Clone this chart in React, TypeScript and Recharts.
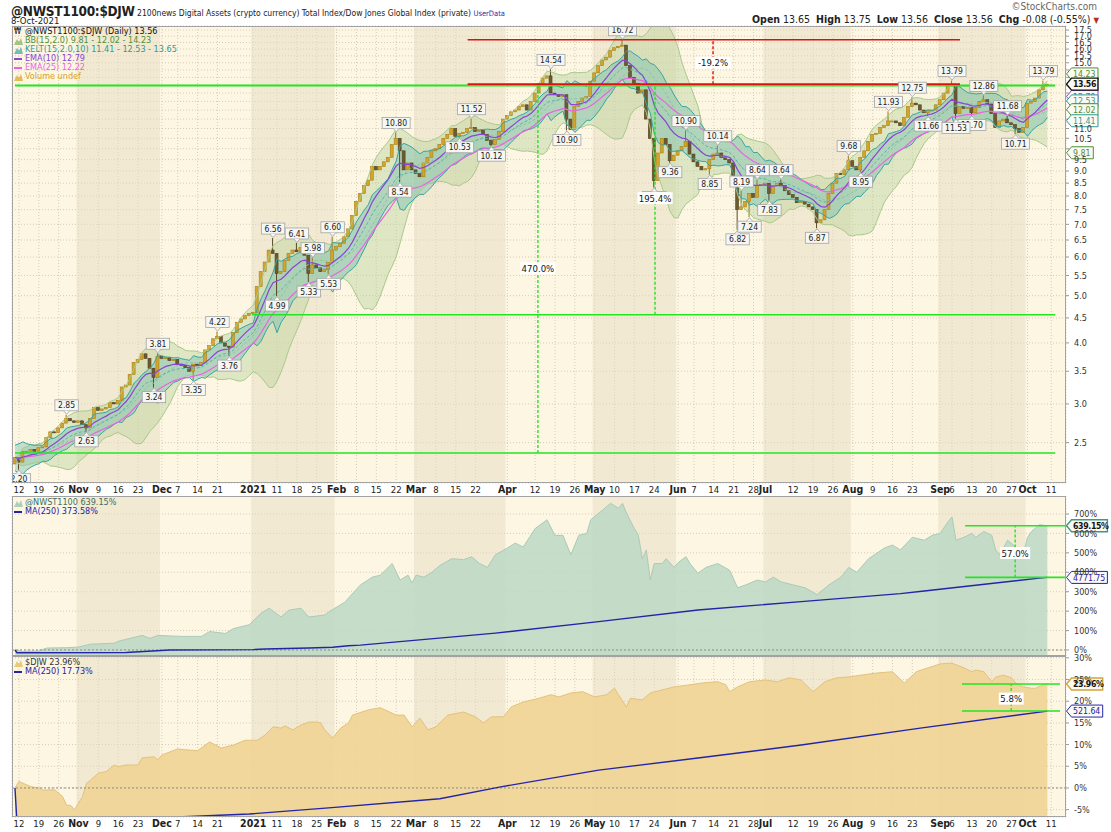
//
// @NWST1100:$DJW daily ratio chart with performance panels
//
import React from 'react';
import {
  Area,
  Bar,
  CartesianGrid,
  ComposedChart,
  Line,
  ReferenceArea,
  ReferenceDot,
  ReferenceLine,
  Scatter,
  XAxis,
  YAxis,
} from 'recharts';

const FONT = '"DejaVu Sans Condensed", "DejaVu Sans", Verdana, sans-serif';

// trading-day index: 0 = 9-Oct-2020 ... 260 = 8-Oct-2021 (weekdays)
const closes = [
  2.33, 2.28, 2.40, 2.40, 2.42, 2.40, 2.44, 2.45, 2.56, 2.63,
  2.62, 2.68, 2.74, 2.80, 2.77, 2.75, 2.77, 2.72, 2.68, 2.80,
  2.95, 2.91, 2.93, 2.95, 3.02, 3.00, 3.05, 3.25, 3.28, 3.45,
  3.65, 3.70, 3.80, 3.72, 3.55, 3.40, 3.75, 3.72, 3.73, 3.68,
  3.70, 3.62, 3.60, 3.56, 3.50, 3.62, 3.60, 3.65, 3.87, 3.95,
  4.08, 4.12, 4.00, 3.94, 3.92, 4.20, 4.41, 4.48, 4.55, 4.60,
  4.62, 5.22, 5.60, 5.86, 6.20, 6.10, 5.55, 5.60, 5.90, 6.10,
  6.20, 6.15, 6.28, 6.05, 5.55, 5.78, 5.70, 5.60, 5.65, 5.85,
  6.20, 6.30, 6.40, 6.60, 6.85, 7.30, 7.80, 8.10, 8.40, 8.62,
  9.20, 9.05, 9.20, 9.40, 9.60, 10.20, 10.50, 9.90, 9.05, 9.35,
  9.05, 8.90, 8.76, 9.35, 9.60, 9.90, 10.00, 10.20, 10.50, 10.70,
  11.00, 10.60, 10.75, 10.80, 11.00, 11.05, 10.85, 10.90, 10.70, 10.40,
  10.20, 10.45, 10.85, 11.50, 11.70, 11.90, 12.00, 12.20, 12.30, 12.00,
  12.50, 13.00, 13.60, 13.95, 14.10, 13.00, 12.90, 12.80, 12.90, 11.50,
  10.95, 12.20, 12.50, 12.70, 12.80, 13.75, 14.30, 14.80, 15.20, 15.40,
  15.90, 16.10, 16.20, 16.30, 14.80, 14.00, 13.60, 13.00, 13.20, 11.50,
  10.50, 8.60, 9.80, 10.50, 10.20, 9.45, 9.70, 9.90, 10.10, 10.35,
  9.75, 9.40, 9.20, 9.05, 9.10, 9.50, 9.75, 9.80, 9.60, 9.50,
  9.35, 8.50, 7.50, 7.60, 7.80, 8.10, 7.95, 8.40, 8.45, 8.50,
  8.10, 8.40, 8.50, 8.40, 8.20, 8.05, 7.95, 7.75, 7.80, 7.70,
  7.60, 7.50, 7.05, 7.15, 7.50, 8.10, 8.50, 8.90, 8.85, 9.05,
  9.45, 9.20, 9.05, 9.60, 9.90, 10.35, 10.70, 10.75, 11.05, 11.15,
  11.40, 11.40, 11.30, 11.15, 11.60, 12.20, 12.40, 12.30, 12.00, 11.85,
  12.00, 12.00, 12.30, 12.60, 13.00, 13.45, 13.55, 11.80, 12.20, 12.10,
  12.15, 11.85, 12.15, 12.50, 12.60, 12.35, 11.80, 11.05, 11.40, 11.50,
  11.30, 11.20, 11.00, 10.80, 11.05, 12.40, 12.50, 12.70, 13.20, 13.45,
  13.56,
];
const firstOpen = 2.26;

// labelled highs / lows [index, value, kind]
const priceNotes: [number, number, string][] = [
  [1, 2.20, 'lo'], [13, 2.85, 'hi'], [18, 2.63, 'lo'], [35, 3.24, 'lo'], [36, 3.81, 'hi'],
  [45, 3.35, 'lo'], [51, 4.22, 'hi'], [54, 3.76, 'lo'], [65, 6.56, 'hi'], [66, 4.99, 'lo'],
  [71, 6.41, 'hi'], [74, 5.33, 'lo'], [75, 5.98, 'hi'], [79, 5.53, 'lo'], [80, 6.60, 'hi'],
  [96, 10.80, 'hi'], [97, 8.54, 'lo'], [112, 10.53, 'lo'], [115, 11.52, 'hi'], [120, 10.12, 'lo'],
  [135, 14.54, 'hi'], [139, 10.90, 'lo'], [153, 16.72, 'hi'], [161, 8.33, 'lo'], [165, 9.36, 'lo'],
  [169, 10.90, 'hi'], [175, 8.85, 'lo'], [177, 10.14, 'hi'], [182, 6.82, 'lo'], [183, 8.19, 'hi'],
  [185, 7.24, 'lo'], [187, 8.64, 'hi'], [190, 7.83, 'lo'], [193, 8.64, 'hi'], [202, 6.87, 'lo'],
  [210, 9.68, 'hi'], [213, 8.95, 'lo'], [220, 11.93, 'hi'], [226, 12.75, 'hi'], [230, 11.66, 'lo'],
  [236, 13.79, 'hi'], [241, 11.70, 'lo'], [237, 11.53, 'lo'], [244, 12.86, 'hi'], [250, 11.68, 'hi'],
  [252, 10.71, 'lo'], [259, 13.79, 'hi'],
];

const xTickIdx = [
  1, 6, 11, 16, 21, 26, 31, 37, 41, 46, 51, 60, 66, 71, 76, 81, 86, 91, 96, 101, 106, 111, 116,
  124, 131, 136, 141, 146, 151, 156, 161, 167, 171, 176, 181, 186, 189, 196, 201, 206, 211, 216,
  221, 226, 233, 236, 241, 246, 251, 255, 261,
];
const xTickLabels = [
  '12', '19', '26', 'Nov', '9', '16', '23', 'Dec', '7', '14', '21', '2021', '11', '18', '25',
  'Feb', '8', '15', '22', 'Mar', '8', '15', '22', 'Apr', '12', '19', '26', 'May', '10', '17', '24',
  'Jun', '7', '14', '21', '28', 'Jul', '12', '19', '26', 'Aug', '9', '16', '23', 'Sep', '6', '13',
  '20', '27', 'Oct', '11',
];
const priceTicks = [
  2.5, 3, 3.5, 4, 4.5, 5, 5.5, 6, 6.5, 7, 7.5, 8, 8.5, 9, 9.5, 10, 10.5, 11, 11.5, 12, 12.5,
  13, 13.5, 14, 14.5, 15, 15.5, 16, 16.5, 17, 17.5,
];
// tick labels that sit under the value tags on the right
const priceTicksCovered = [10, 11.5, 12, 12.5, 13, 13.5, 14, 14.5];
const nwstTicks = [0, 100, 200, 300, 400, 500, 600, 700];
const djwTicks = [-5, 0, 5, 10, 15, 20, 25, 30];

// % change panels [index, value]
const nwstPerf: [number, number][] = [
  [0, 0], [2, -8], [6, -5], [8, 10], [13, 12], [16, 15], [19, 30], [25, 35], [26, 45], [32, 75],
  [34, 60], [36, 75], [42, 70], [47, 70], [49, 95], [53, 85], [55, 110], [59, 130], [62, 190],
  [64, 215], [67, 170], [69, 205], [72, 215], [74, 170], [78, 180], [79, 196], [83, 245],
  [87, 335], [90, 375], [92, 385], [95, 445], [97, 360], [99, 385], [100, 345], [101, 385],
  [103, 375], [105, 400], [107, 435], [110, 470], [113, 465], [115, 480], [117, 445], [119, 425],
  [121, 490], [124, 525], [126, 550], [128, 530], [131, 625], [134, 670], [136, 590], [138, 590],
  [140, 490], [142, 590], [144, 600], [145, 670], [148, 720], [150, 755], [152, 730], [153, 755],
  [154, 705], [156, 625], [157, 590], [158, 470], [159, 515], [160, 360], [161, 445], [163, 445],
  [164, 470], [166, 425], [167, 450], [169, 480], [170, 445], [172, 395], [174, 425], [177, 445],
  [180, 410], [182, 320], [184, 335], [187, 360], [189, 350], [191, 375], [193, 350], [196, 335],
  [199, 320], [202, 285], [205, 335], [208, 375], [210, 425], [212, 400], [215, 470], [219, 525],
  [221, 540], [223, 515], [226, 580], [229, 565], [231, 590], [233, 600], [235, 660], [236, 685],
  [237, 565], [239, 580], [241, 600], [242, 580], [244, 610], [246, 590], [247, 515], [248, 490],
  [250, 565], [252, 530], [254, 500], [255, 580], [256, 610], [258, 645], [260, 639.15],
];
const nwstMa: [number, number][] = [
  [0, 0], [0.5, -14], [28, -13], [39, 0], [60, 2], [63, 5], [74, 10], [80, 14], [84, 22],
  [87, 25], [121, 87], [147, 146], [172, 206], [198, 249], [223, 290], [229, 304], [258, 370],
  [260, 373.58],
];
const djwPerf: [number, number][] = [
  [0, 0], [1, 1.5], [2, 1.1], [4, 0.3], [6, 0], [7, -0.5], [10, -0.4], [11, -1.2], [12, -2],
  [13, -4], [14, -4], [15, -5], [17, -2], [18, 1], [19, 1.8], [21, 3.4], [23, 3.8], [25, 5.3],
  [26, 4.9], [28, 5.3], [31, 5.3], [32, 6.9], [35, 7.2], [36, 6.5], [37, 7.6], [41, 9], [43, 8.8],
  [46, 8.6], [49, 10.6], [52, 9.2], [55, 9.9], [58, 11], [61, 11], [63, 12.2], [65, 14.1],
  [67, 13.8], [68, 14.3], [70, 13.4], [72, 14.5], [74, 15.2], [76, 15.2], [77, 15], [78, 13.4],
  [80, 11.5], [82, 13.8], [84, 15], [85, 16.8], [89, 18], [92, 18.5], [96, 16.8], [98, 16.8],
  [100, 14.1], [102, 16.1], [104, 13.4], [106, 14.1], [109, 16.8], [113, 17.5], [116, 16.4],
  [118, 15], [120, 16.4], [123, 16.4], [125, 18.7], [128, 19.8], [132, 20.7], [135, 21.5],
  [137, 21], [140, 21.9], [143, 22.2], [146, 21], [149, 21.5], [151, 23], [152, 21.5], [154, 18.7],
  [155, 20.7], [158, 20.3], [160, 21.9], [163, 22.6], [166, 23.3], [170, 23.8], [173, 24.2],
  [177, 24.5], [179, 23.8], [180, 22.2], [182, 23.3], [185, 24.5], [189, 24.9], [192, 24.5],
  [195, 25.4], [198, 24.9], [201, 22.2], [204, 24.5], [207, 25.4], [210, 25.6], [213, 26],
  [217, 26.5], [221, 26.8], [224, 24.2], [227, 26.8], [230, 27.7], [233, 28.6], [236, 28.8],
  [237, 28.4], [239, 27.7], [241, 26.8], [242, 27.2], [244, 26.8], [246, 24.5], [247, 25.6],
  [249, 26], [251, 25.4], [252, 24.2], [254, 23.3], [256, 23], [257, 23], [259, 23.8], [260, 23.96],
];
const djwMa: [number, number][] = [
  [0, 0], [0.5, -8], [44, -6.6], [59, -6], [79, -4.6], [107, -2.5], [122, 0.2], [147, 4.1],
  [172, 6.9], [198, 9.9], [228, 13.8], [260, 17.73],
];

const X_MIN = -0.75;
const X_MAX = 264.7;

// ---- derived rows ----
const noteHi = new Map<number, number>();
const noteLo = new Map<number, number>();
priceNotes.forEach(([i, v, k]) => (k === 'hi' ? noteHi : noteLo).set(i, v));

const ema = (src: number[], n: number) => {
  const k = 2 / (n + 1);
  const out: number[] = [];
  src.forEach((v, i) => out.push(i === 0 ? v : out[i - 1] + k * (v - out[i - 1])));
  return out;
};

const opens = closes.map((c, i) => (i === 0 ? firstOpen : closes[i - 1]));
const highs = closes.map((c, i) => Math.max(c, opens[i], noteHi.get(i) ?? 0));
const lows = closes.map((c, i) => Math.min(c, opens[i], noteLo.get(i) ?? Infinity));
const trueRange = closes.map((c, i) => {
  const pc = i === 0 ? opens[0] : closes[i - 1];
  return Math.max(highs[i] - lows[i], Math.abs(highs[i] - pc), Math.abs(lows[i] - pc));
});
const atr10 = ema(trueRange, 10);
const ema10 = ema(closes, 10);
const ema15 = ema(closes, 15);
const ema25 = ema(closes, 25);

const priceRows = closes.map((c, i) => {
  const win = closes.slice(Math.max(0, i - 14), i + 1);
  const m = win.reduce((s, v) => s + v, 0) / win.length;
  const sd = Math.sqrt(win.reduce((s, v) => s + (v - m) ** 2, 0) / win.length);
  return {
    i,
    open: opens[i],
    close: c,
    high: highs[i],
    low: lows[i],
    bb: [m - 2 * sd, m + 2 * sd],
    bbUp: m + 2 * sd,
    bbMid: m,
    bbLo: m - 2 * sd,
    kelt: [ema15[i] - 2 * atr10[i], ema15[i] + 2 * atr10[i]],
    kUp: ema15[i] + 2 * atr10[i],
    kMid: ema15[i],
    kLo: ema15[i] - 2 * atr10[i],
    ema10: ema10[i],
    ema25: ema25[i],
  };
});

const noteRows = priceNotes.map(([i, v, k]) => ({ i, v, k }));

const mergeSeries = (a: [number, number][], b: [number, number][]) => {
  const m = new Map<number, any>();
  a.forEach(([i, v]) => m.set(i, { ...(m.get(i) || { i }), v }));
  b.forEach(([i, ma]) => m.set(i, { ...(m.get(i) || { i }), ma }));
  return [...m.values()].sort((p, q) => p.i - q.i);
};
const nwstRows = mergeSeries(nwstPerf, nwstMa);
const djwRows = mergeSeries(djwPerf, djwMa);

const tickLabelOf = new Map<number, string>();
xTickIdx.forEach((v, k) => tickLabelOf.set(v, xTickLabels[k]));

// darker background for every other month
const monthStarts = xTickIdx.filter((v, k) => xTickLabels[k].length > 2);
const darkMonths = monthStarts
  .map((s, k) => [s - 0.5, (monthStarts[k + 1] ?? X_MAX + 0.5) - 0.5])
  .filter((_, k) => k % 2 === 0);

// ---- shapes ----
const Candle = (props: any) => {
  const { x, y, width, height, payload } = props;
  if (!payload) return null;
  const { open, close, high, low } = payload;
  const top = Math.min(y, y + height);
  const h = Math.abs(height);
  const lh = Math.log(high);
  const span = lh - Math.log(low);
  const py = (v: number) => (span > 0 ? top + (h * (lh - Math.log(v))) / span : top);
  const up = close >= open;
  const b1 = py(Math.max(open, close));
  const b2 = py(Math.min(open, close));
  const cx = x + width / 2;
  return (
    <g>
      <line x1={cx} x2={cx} y1={top} y2={top + h} stroke={up ? '#9a7818' : '#5b4824'} strokeWidth={1} />
      <rect
        x={x}
        y={b1}
        width={width}
        height={Math.max(1, b2 - b1)}
        fill={up ? '#d4a52c' : '#6e5a31'}
        stroke={up ? '#a98318' : '#54431f'}
        strokeWidth={0.6}
      />
    </g>
  );
};

const PriceNote = (props: any) => {
  const { cx, cy, payload } = props;
  if (cx == null || !payload) return null;
  const t = payload.v.toFixed(2);
  const w = t.length * 4.6 + 5;
  const h = 11;
  const hi = payload.k === 'hi';
  const by = hi ? cy - 4 - h : cy + 4;
  const base = hi ? cy - 4 : cy + 4;
  const tip = hi ? cy - 0.5 : cy + 0.5;
  return (
    <g>
      <rect x={cx - w / 2} y={by} width={w} height={h} fill="#f6f6f3" stroke="#a3a3a3" strokeWidth={0.8} />
      <path d={`M${cx - 3},${base} L${cx},${tip} L${cx + 3},${base}`} fill="#f6f6f3" stroke="#a3a3a3" strokeWidth={0.8} />
      <text x={cx} y={by + 8.6} textAnchor="middle" fontSize={8.5} fontFamily={FONT} fill="#222">
        {t}
      </text>
    </g>
  );
};

const Tag = ({ cx, cy, text, color, bold }: any) => {
  if (cx == null) return null;
  const w = text.length * 4.7 + 3;
  const x0 = cx + 0.5;
  return (
    <g>
      <path
        d={`M${x0},${cy} L${x0 + 5},${cy - 6} L${x0 + 5 + w},${cy - 6} L${x0 + 5 + w},${cy + 6} L${x0 + 5},${cy + 6} Z`}
        fill="#fbf9f2"
        stroke={color}
        strokeWidth={bold ? 1.4 : 1}
      />
      <text
        x={x0 + 6.5}
        y={cy + 3.2}
        fontSize={8.7}
        letterSpacing={bold ? -0.35 : 0}
        fontFamily={FONT}
        fontWeight={bold ? 'bold' : 'normal'}
        fill={bold ? '#111' : color}
      >
        {text}
      </text>
    </g>
  );
};

const Measure = ({ cx, cy, text }: any) => {
  if (cx == null) return null;
  const w = text.length * 5.2 + 4;
  return (
    <g>
      <rect x={cx - w / 2} y={cy - 6} width={w} height={12} fill="#ffffff" />
      <text x={cx} y={cy + 3.5} textAnchor="middle" fontSize={9.5} fontFamily={FONT} fill="#111">
        {text}
      </text>
    </g>
  );
};

const XTick = (props: any) => {
  const { x, y, payload } = props;
  const label = tickLabelOf.get(payload.value) ?? '';
  const bold = label.length > 2;
  return (
    <text
      x={x}
      y={y + 10}
      textAnchor="middle"
      fontSize={bold ? 10.5 : 9.5}
      fontWeight={bold ? 'bold' : 'normal'}
      fontFamily={FONT}
      fill="#222"
    >
      {label}
    </text>
  );
};

const PriceTick = (props: any) => {
  const { x, y, payload } = props;
  if (priceTicksCovered.includes(payload.value)) return null;
  return (
    <text x={x} y={y + 3.2} fontSize={9} fontFamily={FONT} fill="#333">
      {payload.value.toFixed(1)}
    </text>
  );
};

const yTick = { fontSize: 9, fill: '#333', fontFamily: FONT };
const gridProps = { stroke: '#d6ccb8', strokeDasharray: '1 2', fill: '#fdf6e3' };

const MonthBands = () =>
  darkMonths.map(([a, b]) => (
    <ReferenceArea key={a} x1={a} x2={b} fill="#e7dcc2" fillOpacity={0.5} stroke="none" ifOverflow="hidden" />
  ));

const legendLine = (color: string, text: string, icon: React.ReactNode) => (
  <div style={{ color, height: 9, lineHeight: '9px', whiteSpace: 'nowrap', display: 'flex', alignItems: 'center' }}>
    <span style={{ width: 11, display: 'inline-flex', alignItems: 'center' }}>{icon}</span>
    {text}
  </div>
);
const dash = (c: string) => <span style={{ display: 'inline-block', width: 8, height: 2, background: c }} />;
const tri = (c: string) => (
  <svg width={9} height={8}>
    <path d="M0,8 L3,2 L5,5 L7,1 L9,8 Z" fill={c} opacity={0.7} />
  </svg>
);

function App() {
  return (
    <div
      style={{
        position: 'absolute',
        left: 0,
        top: 0,
        width: 1111,
        height: 832,
        background: '#fff',
        fontFamily: FONT,
        overflow: 'hidden',
      }}
    >
      {/* header */}
      <div style={{ position: 'absolute', left: 11, top: 1, whiteSpace: 'nowrap', color: '#222' }}>
        <span style={{ fontSize: 13.5, fontWeight: 'bold', letterSpacing: -0.3 }}>@NWST1100:$DJW</span>
        <span style={{ fontSize: 8.5 }}> 2100news Digital Assets (crypto currency) Total Index/Dow Jones Global Index (private) </span>
        <span style={{ fontSize: 7.5, color: '#2233aa' }}>UserData</span>
      </div>
      <div style={{ position: 'absolute', left: 11, top: 15, fontSize: 9.5, color: '#222' }}>8-Oct-2021</div>
      <div style={{ position: 'absolute', right: 14, top: 1, fontSize: 10, color: '#666' }}>©StockCharts.com</div>
      <div style={{ position: 'absolute', right: 12, top: 13, fontSize: 10.5, color: '#222', whiteSpace: 'nowrap' }}>
        <b>Open</b> 13.65 &nbsp;<b>High</b> 13.75 &nbsp;<b>Low</b> 13.56 &nbsp;<b>Close</b> 13.56 &nbsp;<b>Chg</b> -0.08 (-0.55%){' '}
        <span style={{ color: '#b03020', fontSize: 8 }}>▼</span>
      </div>

      {/* price panel */}
      <div style={{ position: 'absolute', left: 0, top: 0 }}>
        <ComposedChart width={1111} height={496} data={priceRows} margin={{ top: 26, right: 0, bottom: 0, left: 12 }}>
          <CartesianGrid {...gridProps} />
          {MonthBands()}
          <XAxis
            dataKey="i"
            type="number"
            domain={[X_MIN, X_MAX]}
            allowDataOverflow
            ticks={xTickIdx}
            interval={0}
            height={13}
            axisLine={false}
            tickLine={false}
            tickSize={0}
            tickMargin={0}
            tick={<XTick />}
          />
          <YAxis
            orientation="right"
            width={45}
            scale="log"
            domain={[2.066, 17.84]}
            allowDataOverflow
            ticks={priceTicks}
            interval={0}
            tick={<PriceTick />}
            axisLine={false}
            tickSize={3}
            tickMargin={5}
            tickLine={{ stroke: '#999' }}
          />
          <Area dataKey="bb" stroke="none" fill="#b9d39c" fillOpacity={0.45} isAnimationActive={false} />
          <Line dataKey="bbUp" stroke="#a9c98d" strokeWidth={1} dot={false} isAnimationActive={false} />
          <Line dataKey="bbLo" stroke="#a9c98d" strokeWidth={1} dot={false} isAnimationActive={false} />
          <Area dataKey="kelt" stroke="none" fill="#6fbcaf" fillOpacity={0.4} isAnimationActive={false} />
          <Line dataKey="kUp" stroke="#3aa49f" strokeWidth={1} dot={false} isAnimationActive={false} />
          <Line dataKey="kLo" stroke="#3aa49f" strokeWidth={1} dot={false} isAnimationActive={false} />
          <Line dataKey="bbMid" stroke="#8fc2a8" strokeDasharray="3 2" strokeWidth={1} dot={false} isAnimationActive={false} />
          <Line dataKey="kMid" stroke="#5fb0ab" strokeDasharray="3 2" strokeWidth={1} dot={false} isAnimationActive={false} />
          <Line dataKey="ema25" stroke="#ea63e4" strokeWidth={1.2} dot={false} isAnimationActive={false} />
          <Line dataKey="ema10" stroke="#8a44d6" strokeWidth={1.2} dot={false} isAnimationActive={false} />
          <Bar
            dataKey={(d: any) => [d.low, d.high]}
            barSize={3}
            shape={<Candle />}
            isAnimationActive={false}
          />

          {/* measurement lines */}
          <ReferenceLine segment={[{ x: 0, y: 13.48 }, { x: 262, y: 13.48 }]} stroke="#22e622" strokeWidth={2} />
          <ReferenceLine segment={[{ x: 114, y: 16.72 }, { x: 238, y: 16.72 }]} stroke="#e01010" strokeWidth={1.6} />
          <ReferenceLine segment={[{ x: 114, y: 13.56 }, { x: 238, y: 13.56 }]} stroke="#e01010" strokeWidth={1.6} />
          <ReferenceLine segment={[{ x: 0, y: 2.38 }, { x: 262, y: 2.38 }]} stroke="#22e622" strokeWidth={1.6} />
          <ReferenceLine segment={[{ x: 59.7, y: 4.57 }, { x: 262, y: 4.57 }]} stroke="#22e622" strokeWidth={1.6} />
          <ReferenceLine segment={[{ x: 131.7, y: 2.38 }, { x: 131.7, y: 13.48 }]} stroke="#22e622" strokeWidth={1.4} strokeDasharray="3 2" />
          <ReferenceLine segment={[{ x: 161.2, y: 4.57 }, { x: 161.2, y: 13.48 }]} stroke="#22e622" strokeWidth={1.4} strokeDasharray="3 2" />
          <ReferenceLine segment={[{ x: 175.8, y: 13.56 }, { x: 175.8, y: 16.72 }]} stroke="#e01010" strokeWidth={1.4} strokeDasharray="3 2" />

          <Scatter data={noteRows} dataKey="v" shape={<PriceNote />} isAnimationActive={false} />

          <ReferenceDot x={131.7} y={5.69} r={0} ifOverflow="visible" shape={(p: any) => <Measure {...p} text="470.0%" />} />
          <ReferenceDot x={161.2} y={7.92} r={0} ifOverflow="visible" shape={(p: any) => <Measure {...p} text="195.4%" />} />
          <ReferenceDot x={175.8} y={15.0} r={0} ifOverflow="visible" shape={(p: any) => <Measure {...p} text="-19.2%" />} />

          <ReferenceDot x={X_MAX} y={12.79} r={0} ifOverflow="visible" shape={(p: any) => <Tag {...p} text="12.79" color="#8a44d6" />} />
          <ReferenceDot x={X_MAX} y={14.23} r={0} ifOverflow="visible" shape={(p: any) => <Tag {...p} text="14.23" color="#4f8f35" />} />
          <ReferenceDot x={X_MAX} y={12.53} r={0} ifOverflow="visible" shape={(p: any) => <Tag {...p} text="12.53" color="#2e9b96" />} />
          <ReferenceDot x={X_MAX} y={12.02} r={0} ifOverflow="visible" shape={(p: any) => <Tag {...p} text="12.02" color="#4f8f35" />} />
          <ReferenceDot x={X_MAX} y={11.41} r={0} ifOverflow="visible" shape={(p: any) => <Tag {...p} text="11.41" color="#2e9b96" />} />
          <ReferenceDot x={X_MAX} y={9.81} r={0} ifOverflow="visible" shape={(p: any) => <Tag {...p} text="9.81" color="#4f8f35" />} />
          <ReferenceDot x={X_MAX} y={13.56} r={0} ifOverflow="visible" shape={(p: any) => <Tag {...p} text="13.56" color="#111" bold />} />
        </ComposedChart>
      </div>

      {/* NWST1100 performance panel */}
      <div style={{ position: 'absolute', left: 0, top: 496 }}>
        <ComposedChart width={1111} height={160} data={nwstRows} margin={{ top: 0, right: 0, bottom: 0, left: 12 }}>
          <CartesianGrid {...gridProps} />
          {MonthBands()}
          <XAxis
            dataKey="i"
            type="number"
            domain={[X_MIN, X_MAX]}
            allowDataOverflow
            ticks={xTickIdx}
            interval={0}
            height={0}
            axisLine={false}
            tickLine={false}
            tick={false}
          />
          <YAxis
            orientation="right"
            width={45}
            domain={[-30.9, 792.6]}
            allowDataOverflow
            ticks={nwstTicks}
            interval={0}
            tickFormatter={(v: number) => `${v}%`}
            tick={yTick}
            axisLine={false}
            tickSize={3}
            tickMargin={5}
            tickLine={{ stroke: '#999' }}
          />
          <ReferenceLine y={0} stroke="#8a8a8a" strokeDasharray="2 2" />
          <Area
            dataKey="v"
            connectNulls
            baseValue={-30.9}
            stroke="#a9cbb8"
            strokeWidth={1}
            fill="#bcd8c6"
            fillOpacity={0.85}
            isAnimationActive={false}
          />
          <Line dataKey="ma" connectNulls stroke="#2424a8" strokeWidth={1.4} dot={false} isAnimationActive={false} />
          <ReferenceLine segment={[{ x: 239.3, y: 639.15 }, { x: 264.5, y: 639.15 }]} stroke="#22e622" strokeWidth={1.6} />
          <ReferenceLine segment={[{ x: 239.3, y: 373.58 }, { x: 264.5, y: 373.58 }]} stroke="#22e622" strokeWidth={1.6} />
          <ReferenceLine segment={[{ x: 251.9, y: 373.58 }, { x: 251.9, y: 639.15 }]} stroke="#22e622" strokeWidth={1.4} strokeDasharray="3 2" />
          <ReferenceDot x={251.9} y={499} r={0} ifOverflow="visible" shape={(p: any) => <Measure {...p} text="57.0%" />} />
          <ReferenceDot x={X_MAX} y={373.58} r={0} ifOverflow="visible" shape={(p: any) => <Tag {...p} text="4771.75" color="#2424a8" />} />
          <ReferenceDot x={X_MAX} y={639.15} r={0} ifOverflow="visible" shape={(p: any) => <Tag {...p} text="639.15%" color="#3a9a8a" bold />} />
        </ComposedChart>
      </div>

      {/* $DJW performance panel (svg starts 6px higher so the top tick label is not clipped) */}
      <div style={{ position: 'absolute', left: 0, top: 651 }}>
        <ComposedChart width={1111} height={179} data={djwRows} margin={{ top: 6, right: 0, bottom: 0, left: 12 }}>
          <CartesianGrid {...gridProps} />
          {MonthBands()}
          <XAxis
            dataKey="i"
            type="number"
            domain={[X_MIN, X_MAX]}
            allowDataOverflow
            ticks={xTickIdx}
            interval={0}
            height={13}
            axisLine={false}
            tickLine={false}
            tickSize={0}
            tickMargin={0}
            tick={<XTick />}
          />
          <YAxis
            orientation="right"
            width={45}
            domain={[-6.7, 30.2]}
            allowDataOverflow
            ticks={djwTicks}
            interval={0}
            tickFormatter={(v: number) => `${v}%`}
            tick={yTick}
            axisLine={false}
            tickSize={3}
            tickMargin={5}
            tickLine={{ stroke: '#999' }}
          />
          <ReferenceLine y={0} stroke="#8a8a8a" strokeDasharray="2 2" />
          <Area
            dataKey="v"
            connectNulls
            baseValue={-6.7}
            stroke="#e2c27c"
            strokeWidth={1}
            fill="#efd493"
            fillOpacity={0.9}
            isAnimationActive={false}
          />
          <Line dataKey="ma" connectNulls stroke="#2424a8" strokeWidth={1.4} dot={false} isAnimationActive={false} />
          <ReferenceLine segment={[{ x: 238.5, y: 23.96 }, { x: 263.2, y: 23.96 }]} stroke="#22e622" strokeWidth={1.6} />
          <ReferenceLine segment={[{ x: 238.5, y: 17.73 }, { x: 263.2, y: 17.73 }]} stroke="#22e622" strokeWidth={1.6} />
          <ReferenceLine segment={[{ x: 250.9, y: 17.73 }, { x: 250.9, y: 23.96 }]} stroke="#22e622" strokeWidth={1.4} strokeDasharray="3 2" />
          <ReferenceDot x={250.9} y={20.6} r={0} ifOverflow="visible" shape={(p: any) => <Measure {...p} text="5.8%" />} />
          <ReferenceDot x={X_MAX} y={17.73} r={0} ifOverflow="visible" shape={(p: any) => <Tag {...p} text="521.64" color="#2424a8" />} />
          <ReferenceDot x={X_MAX} y={23.96} r={0} ifOverflow="visible" shape={(p: any) => <Tag {...p} text="23.96%" color="#d1a53a" bold />} />
        </ComposedChart>
      </div>

      {/* panel frames */}
      {[
        [26, 457],
        [496, 160],
        [656, 161],
      ].map(([t, h]) => (
        <div
          key={t}
          style={{
            position: 'absolute',
            left: 12,
            top: t,
            width: 1054,
            height: h,
            border: '1px solid #a2a2a2',
            boxSizing: 'border-box',
            pointerEvents: 'none',
          }}
        />
      ))}

      {/* legends */}
      <div style={{ position: 'absolute', left: 14, top: 27, fontSize: 9 }}>
        {legendLine('#111', '@NWST1100:$DJW (Daily) 13.56', <span style={{ fontSize: 8 }}>₩</span>)}
        {legendLine('#4f8f35', 'BB(15,2.0) 9.81 - 12.02 - 14.23', tri('#7fb060'))}
        {legendLine('#2e9b96', 'KELT(15,2.0,10) 11.41 - 12.53 - 13.65', tri('#3aa49f'))}
        {legendLine('#8a44d6', 'EMA(10) 12.79', dash('#8a44d6'))}
        {legendLine('#ea63e4', 'EMA(25) 12.22', dash('#ea63e4'))}
        {legendLine('#d9a21f', 'Volume undef', tri('#d9a21f'))}
      </div>
      <div style={{ position: 'absolute', left: 14, top: 498, fontSize: 9 }}>
        {legendLine('#3b6f62', '@NWST1100 639.15%', tri('#8cbfa8'))}
        {legendLine('#2424a8', 'MA(250) 373.58%', dash('#2424a8'))}
      </div>
      <div style={{ position: 'absolute', left: 14, top: 658, fontSize: 9 }}>
        {legendLine('#333', '$DJW 23.96%', tri('#e0b84e'))}
        {legendLine('#2424a8', 'MA(250) 17.73%', dash('#2424a8'))}
      </div>
    </div>
  );
}

export default App;
